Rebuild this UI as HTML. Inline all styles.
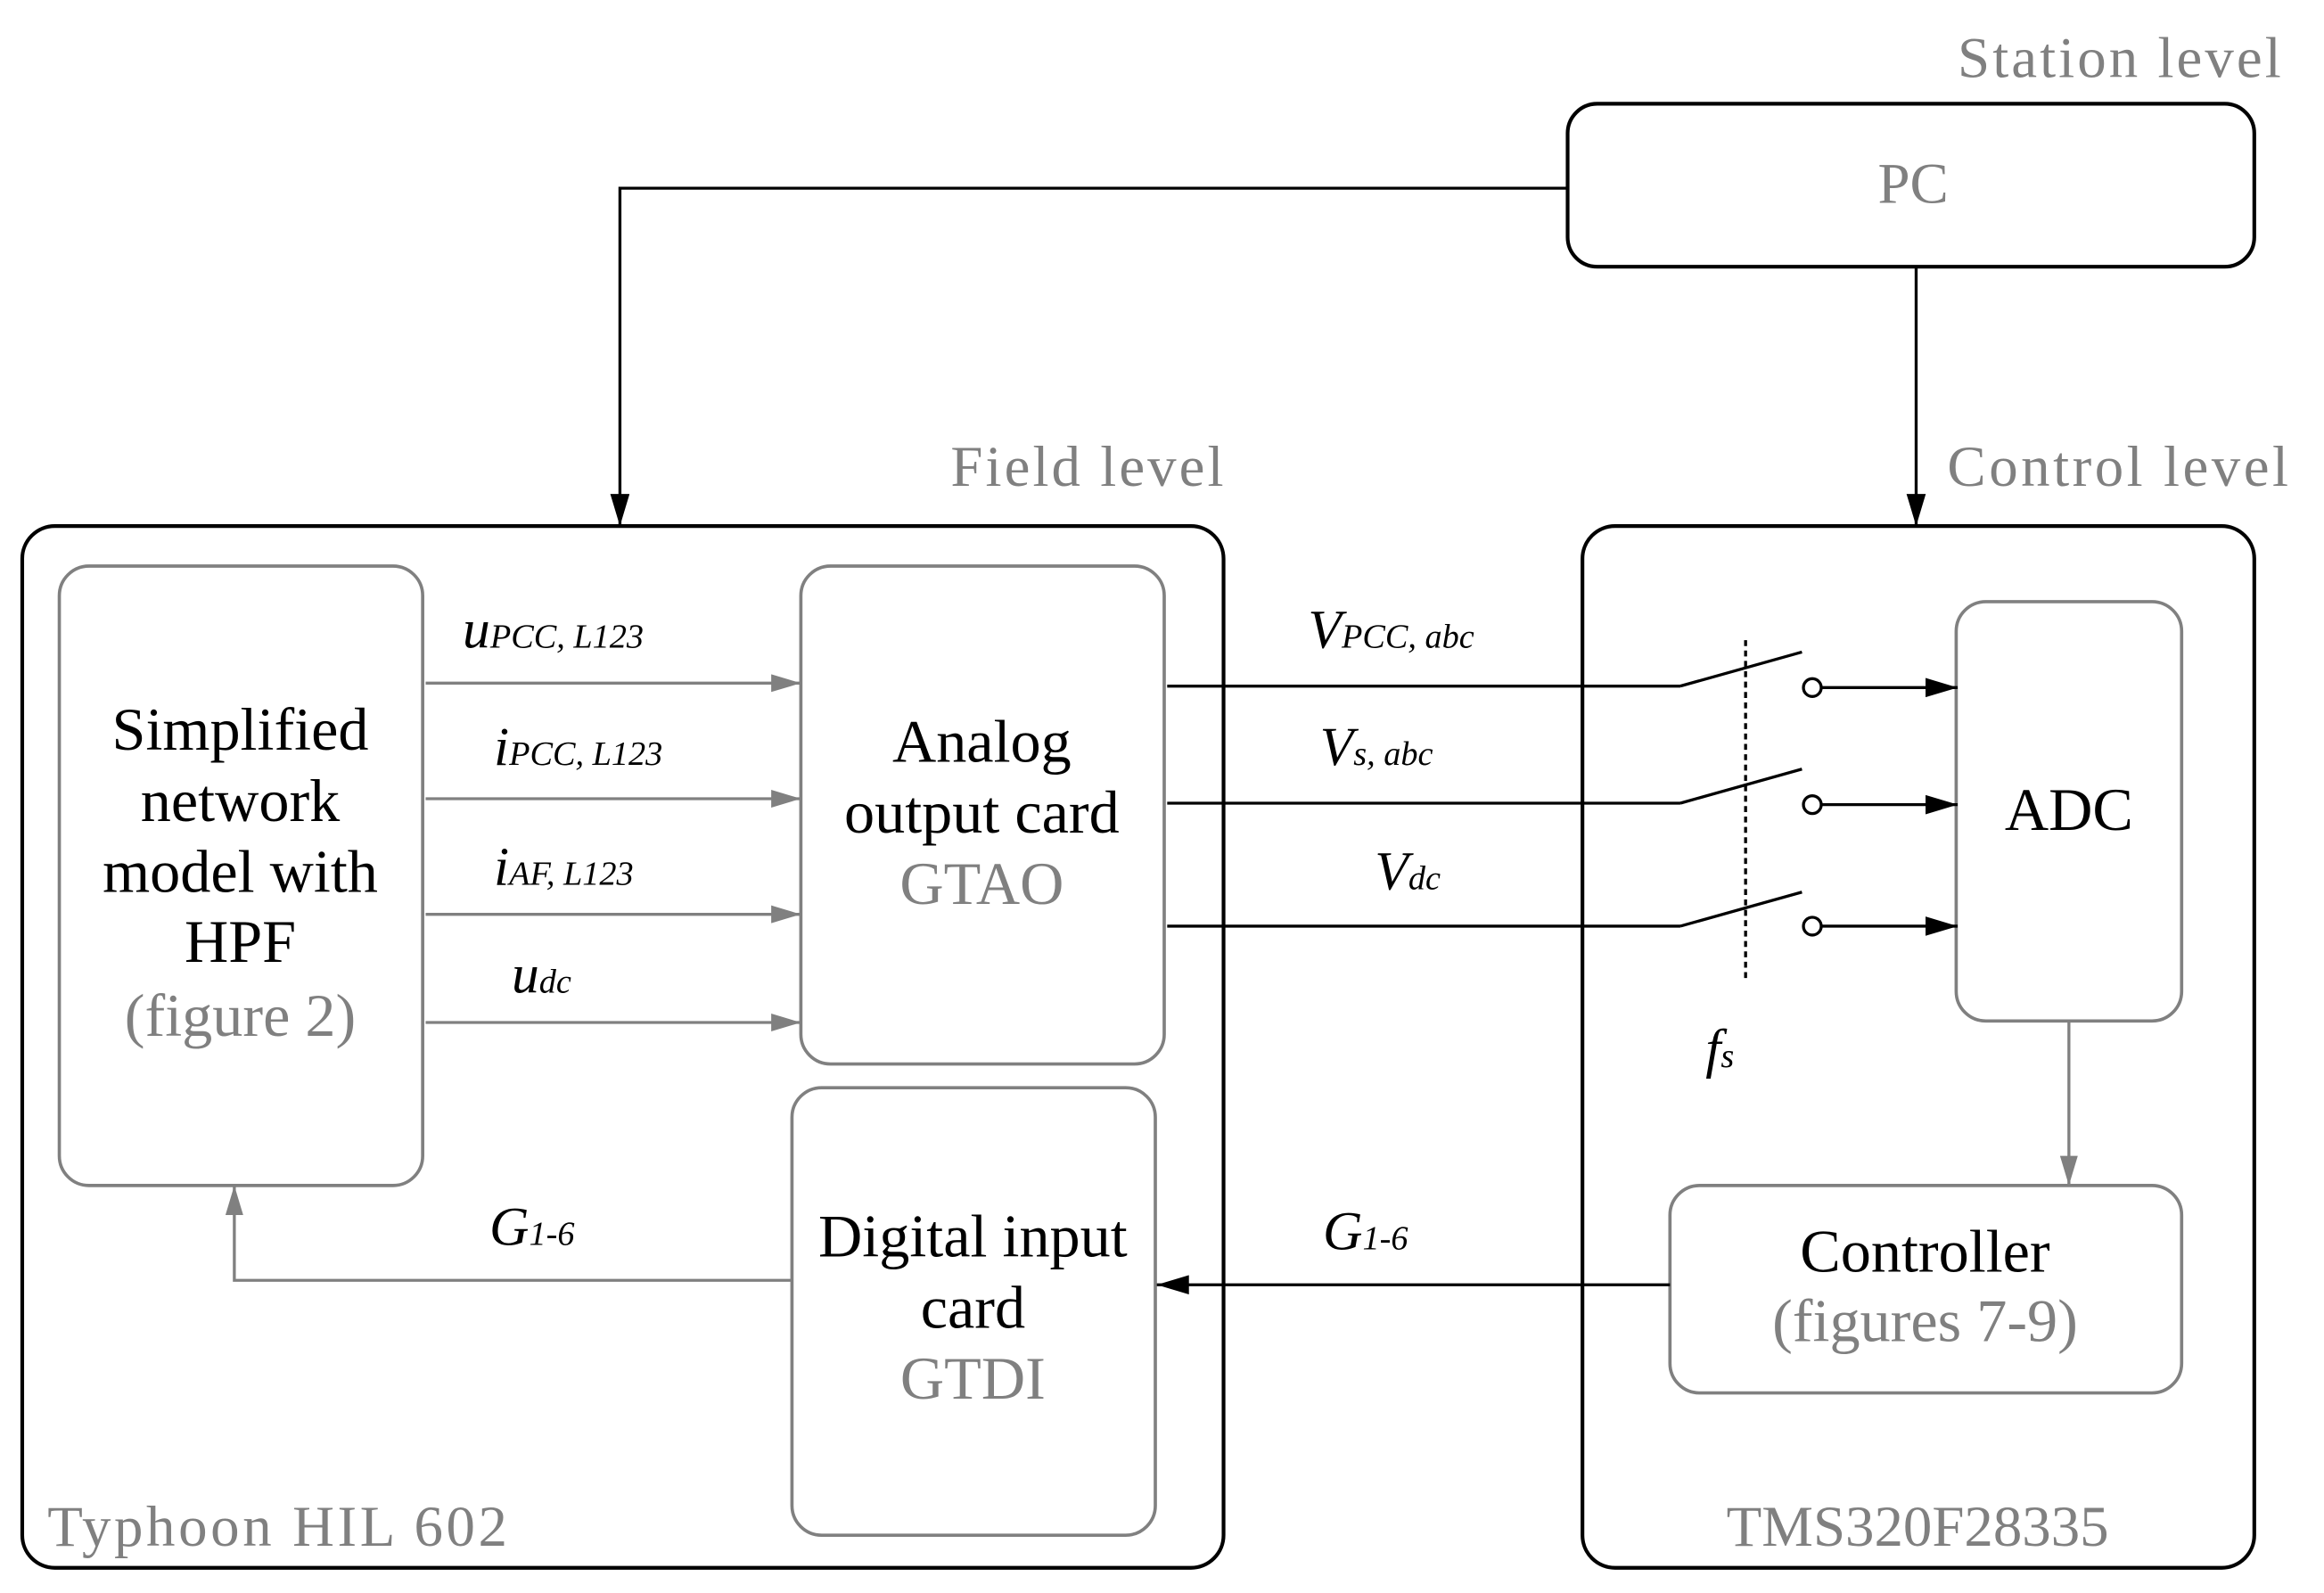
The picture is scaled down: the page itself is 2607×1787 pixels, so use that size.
<!DOCTYPE html>
<html><head><meta charset="utf-8"><style>
html,body{margin:0;padding:0;background:#fff}
svg{display:block}
text{font-family:"Liberation Serif",serif}
</style></head><body>
<svg width="2607" height="1787" viewBox="0 0 1567 1075" preserveAspectRatio="none" xmlns="http://www.w3.org/2000/svg">
<defs>
<marker id="ak" viewBox="0 0 20 12" markerWidth="22" markerHeight="13" refX="20" refY="6" orient="auto" markerUnits="userSpaceOnUse"><path d="M0,0 L20,6 L0,12z" fill="#000"/></marker>
<marker id="ag" viewBox="0 0 20 12" markerWidth="20" markerHeight="12" refX="20" refY="6" orient="auto" markerUnits="userSpaceOnUse"><path d="M0,0 L20,6 L0,12z" fill="#808080"/></marker>
</defs>
<g fill="none" stroke="#000" stroke-width="2.5">
<rect x="1057" y="70" width="463" height="110" rx="20"/>
<rect x="15" y="355" width="810" height="703" rx="22"/>
<rect x="1067" y="355" width="453" height="703" rx="22"/>
</g>
<g fill="none" stroke="#808080" stroke-width="2.2">
<rect x="40" y="382" width="245" height="418" rx="20"/>
<rect x="540" y="382" width="245" height="336" rx="20"/>
<rect x="534" y="734" width="245" height="302" rx="20"/>
<rect x="1319" y="406" width="152" height="283" rx="20"/>
<rect x="1126" y="800" width="345" height="140" rx="20"/>
</g>
<g stroke="#000" stroke-width="2" fill="none">
<polyline points="1057,127 418,127 418,355" marker-end="url(#ak)"/>
<line x1="1292" y1="180" x2="1292" y2="355" marker-end="url(#ak)"/>
<line x1="1126" y1="867" x2="780" y2="867" marker-end="url(#ak)"/>
<line x1="787" y1="463" x2="1133" y2="463"/>
<line x1="787" y1="542" x2="1133" y2="542"/>
<line x1="787" y1="625" x2="1133" y2="625"/>
<line x1="1133" y1="463" x2="1215" y2="440"/>
<line x1="1133" y1="542" x2="1215" y2="519"/>
<line x1="1133" y1="625" x2="1215" y2="602"/>
<circle cx="1222" cy="464" r="6"/>
<circle cx="1222" cy="543" r="6"/>
<circle cx="1222" cy="625" r="6"/>
<line x1="1228" y1="464" x2="1320" y2="464" marker-end="url(#ak)"/>
<line x1="1228" y1="543" x2="1320" y2="543" marker-end="url(#ak)"/>
<line x1="1228" y1="625" x2="1320" y2="625" marker-end="url(#ak)"/>
<line x1="1177" y1="432" x2="1177" y2="660" stroke-dasharray="4,3"/>
</g>
<g stroke="#808080" stroke-width="2" fill="none">
<line x1="287" y1="461" x2="540" y2="461" marker-end="url(#ag)"/>
<line x1="287" y1="539" x2="540" y2="539" marker-end="url(#ag)"/>
<line x1="287" y1="617" x2="540" y2="617" marker-end="url(#ag)"/>
<line x1="287" y1="690" x2="540" y2="690" marker-end="url(#ag)"/>
<polyline points="534,864 158,864 158,800" marker-end="url(#ag)"/>
<line x1="1395" y1="689" x2="1395" y2="800" marker-end="url(#ag)"/>
</g>
<g font-size="39" fill="#808080">
<text x="1538" y="52" text-anchor="end" textLength="218">Station level</text>
<text x="1290" y="137" text-anchor="middle">PC</text>
<text x="825" y="328" text-anchor="end" textLength="184">Field level</text>
<text x="1543" y="328" text-anchor="end" textLength="230">Control level</text>
<text x="32" y="1043" textLength="310">Typhoon HIL 602</text>
<text x="1293" y="1043" text-anchor="middle">TMS320F28335</text>
</g>
<g font-size="41" text-anchor="middle" fill="#000">
<text x="162" y="506">Simplified</text>
<text x="162" y="554">network</text>
<text x="162" y="602">model with</text>
<text x="162" y="649">HPF</text>
<text x="162" y="699" fill="#808080">(figure 2)</text>
<text x="662" y="514">Analog</text>
<text x="662" y="562">output card</text>
<text x="662" y="610" fill="#808080">GTAO</text>
<text x="656" y="848">Digital input</text>
<text x="656" y="896">card</text>
<text x="656" y="944" fill="#808080">GTDI</text>
<text x="1395" y="560">ADC</text>
<text x="1298" y="858">Controller</text>
<text x="1298" y="905" fill="#808080">(figures 7-9)</text>
</g>
<g font-style="italic" fill="#000">
<text x="312" y="437" font-size="37">u<tspan font-size="23">PCC, L123</tspan></text>
<text x="333" y="516" font-size="37">i<tspan font-size="23">PCC, L123</tspan></text>
<text x="333" y="597" font-size="37">i<tspan font-size="23">AF, L123</tspan></text>
<text x="345" y="670" font-size="37">u<tspan font-size="23">dc</tspan></text>
<text x="330" y="840" font-size="37">G<tspan font-size="23">1-6</tspan></text>
<text x="882" y="437" font-size="37">V<tspan font-size="23">PCC, abc</tspan></text>
<text x="890" y="516" font-size="37">V<tspan font-size="23">s, abc</tspan></text>
<text x="927" y="600" font-size="37">V<tspan font-size="23">dc</tspan></text>
<text x="1150" y="720" font-size="37">f<tspan font-size="23">s</tspan></text>
<text x="892" y="843" font-size="37">G<tspan font-size="23">1-6</tspan></text>
</g>
</svg>
</body></html>
